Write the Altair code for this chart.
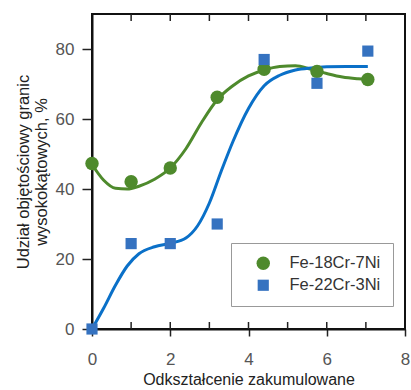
import altair as alt
import pandas as pd

# Measured points
strain = [0, 1, 2, 3.2, 4.4, 5.75, 7.05]
fe18 = [47.3, 42.1, 46.0, 66.2, 74.2, 73.6, 71.3]
fe22 = [0.0, 24.4, 24.4, 30.0, 77.0, 70.2, 79.4]
series_names = ["Fe-18Cr-7Ni", "Fe-22Cr-3Ni"]

# Fitted curves
g_curve_x = [0, 0.3, 0.6, 0.9, 1.2, 1.6, 2.0, 2.4, 2.8, 3.2, 3.6, 4.0, 4.4, 4.8, 5.2, 5.6, 6.0, 6.4, 6.8, 7.05]
g_curve_y = [47, 42.5, 40.2, 40.0, 40.8, 42.8, 46.0, 51.5, 59.0, 65.5, 69.5, 72.3, 74.0, 75.0, 75.2, 74.2, 73.0, 72.0, 71.5, 71.3]
b_curve_x = [0, 0.3, 0.6, 0.9, 1.2, 1.6, 2.0, 2.4, 2.7, 3.0, 3.3, 3.6, 4.0, 4.4, 4.8, 5.2, 5.6, 6.0, 6.5, 7.05]
b_curve_y = [0, 6, 12.5, 18, 21.5, 23.5, 24.5, 26, 29.5, 36, 45, 53.5, 63, 69.5, 72.5, 74, 74.6, 74.9, 75, 75]

minor_x = [1, 2, 3, 4, 5, 6, 7]
x_ticks = [0, 1, 2, 3, 4, 5, 6, 7, 8]
y_ticks = [0, 10, 20, 30, 40, 50, 60, 70, 80]

GREEN = "#4e8a2c"
BLUE_PT = "#3572c0"
BLUE_LN = "#0a70c8"
FONT = "Liberation Sans"
W, H = 313, 315

pts = pd.DataFrame({
    "x": strain * 2,
    "y": fe18 + fe22,
    "s": [series_names[0]] * len(strain) + [series_names[1]] * len(strain),
})
gc = pd.DataFrame({"x": g_curve_x, "y": g_curve_y})
bc = pd.DataFrame({"x": b_curve_x, "y": b_curve_y})
tk = pd.DataFrame({"x": minor_x})

xs = alt.Scale(domain=[0, 8], nice=False, zero=False)
ys = alt.Scale(domain=[0, 90], nice=False)

xaxis = alt.Axis(values=x_ticks, labelExpr="datum.value % 2 == 0 ? datum.label : ''",
                 title="Odkształcenie zakumulowane", tickSize=7, tickColor="#222",
                 tickWidth=1.5, labelPadding=15, titlePadding=4, grid=False,
                 labelFlush=False, domainColor="#111", domainWidth=2,
                 labelFont=FONT, titleFont=FONT, labelFontSize=17, titleFontSize=16,
                 labelColor="#555", titleColor="#222", titleFontWeight="normal")
yaxis = alt.Axis(values=y_ticks, labelExpr="datum.value % 20 == 0 ? datum.label : ''",
                 title=["Udział objętościowy granic", "wysokokątowych, %"],
                 tickSize=10, tickColor="#222", tickWidth=1.5, labelPadding=8,
                 titlePadding=6, grid=False, labelFlush=False,
                 domainColor="#111", domainWidth=2,
                 labelFont=FONT, titleFont=FONT, labelFontSize=17, titleFontSize=16.5,
                 labelColor="#555", titleColor="#222", titleFontWeight="normal",
                 titleLineHeight=18)

g_line = alt.Chart(gc).mark_line(color=GREEN, strokeWidth=3, interpolate="monotone").encode(
    x=alt.X("x:Q", scale=xs, axis=xaxis), y=alt.Y("y:Q", scale=ys, axis=yaxis))
b_line = alt.Chart(bc).mark_line(color=BLUE_LN, strokeWidth=3, interpolate="monotone").encode(
    x=alt.X("x:Q", scale=xs), y=alt.Y("y:Q", scale=ys))

points = alt.Chart(pts).mark_point(filled=True, opacity=1).encode(
    x=alt.X("x:Q", scale=xs), y=alt.Y("y:Q", scale=ys),
    color=alt.Color("s:N", scale=alt.Scale(domain=series_names, range=[GREEN, BLUE_PT]),
                    legend=alt.Legend(title=None, orient="none", legendX=139, legendY=229,
                                      strokeColor="#999", fillColor="white", padding=12,
                                      symbolOffset=12, labelOffset=18, rowPadding=5,
                                      labelFontSize=16.5, labelFont=FONT, labelColor="#333")),
    shape=alt.Shape("s:N", scale=alt.Scale(domain=series_names, range=["circle", "square"])),
    size=alt.Size("s:N", scale=alt.Scale(domain=series_names, range=[180, 125]), legend=None),
)

top_ticks = alt.Chart(tk).mark_rule(color="#222", strokeWidth=1.5).encode(
    x=alt.X("x:Q", scale=xs), y=alt.value(0), y2=alt.value(7))
bot_ticks = alt.Chart(tk).mark_rule(color="#222", strokeWidth=1.5).encode(
    x=alt.X("x:Q", scale=xs), y=alt.value(H - 7), y2=alt.value(H))

chart = alt.layer(g_line, b_line, points, top_ticks, bot_ticks).properties(
    width=W, height=H,
    autosize=alt.AutoSizeParams(type="none"),
    padding={"left": 92, "top": 14, "right": 6, "bottom": 61},
    background="white",
).configure_view(stroke="#111", strokeWidth=2)

chart.save("out.html", embed_options={"renderer": "svg", "actions": False})
